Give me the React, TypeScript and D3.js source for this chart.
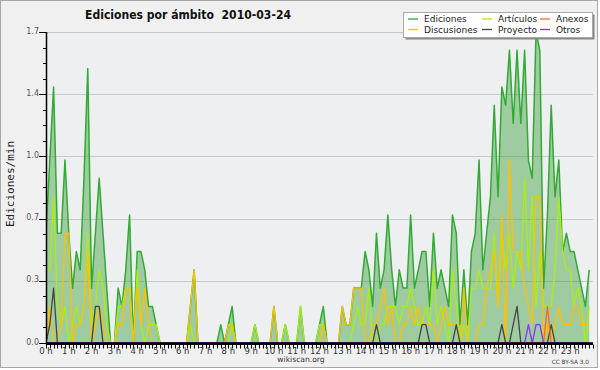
import React from "react";
import * as d3 from "d3";

// ---- DATA (values per 10-minute bucket, edits/min) ----
const hourLabels = [
  "0 h","1 h","2 h","3 h","4 h","5 h","6 h","7 h","8 h","9 h","10 h","11 h",
  "12 h","13 h","14 h","15 h","16 h","17 h","18 h","19 h","20 h","21 h","22 h","23 h",
];
const yTickValues = [0, 0.34, 0.68, 1.02, 1.36, 1.7];
const yTickLabels = ["0.0", "0.3", "0.7", "1.0", "1.4", "1.7"];

const ediciones = [
  0.6, 1.0, 1.4, 0.6, 0.6, 1.0,
  0.6, 0.3, 0.5, 0.4, 0.9, 1.5,
  0.3, 0.6, 0.9, 0.6, 0.3, 0,
  0, 0.3, 0.2, 0.4, 0.7, 0,
  0.5, 0.5, 0.4, 0.2, 0.2, 0.1,
  0, 0, 0, 0, 0, 0,
  0, 0, 0.2, 0.4, 0, 0,
  0, 0, 0, 0, 0.1, 0,
  0.1, 0.2, 0, 0, 0, 0,
  0, 0.1, 0, 0, 0, 0,
  0.2, 0, 0, 0.1, 0, 0,
  0, 0.2, 0, 0, 0, 0,
  0.1, 0.2, 0, 0, 0, 0,
  0.2, 0.1, 0.1, 0.3, 0.3, 0.3,
  0.5, 0.4, 0.2, 0.6, 0.3, 0.4,
  0.7, 0.4, 0.2, 0.4, 0.3, 0.3,
  0.7, 0.3, 0.4, 0.5, 0.5, 0.2,
  0.6, 0.3, 0.4, 0.3, 0.2, 0.7,
  0.6, 0.1, 0.4, 0.1, 0.5, 0.6,
  1.0, 0.4, 0.6, 0.8, 1.3, 0.8,
  1.4, 1.3, 1.6, 1.2, 1.6, 1.2,
  1.6, 1.0, 0.9, 1.7, 1.6, 0.3,
  0.7, 1.3, 0.8, 1.0, 0.5, 0.6,
  0.5, 0.5, 0.4, 0.3, 0.2, 0.4,
];

const articulos = [
  0.4, 0.4, 0.8, 0.2, 0.1, 0.2,
  0, 0.1, 0.2, 0.1, 0.2, 0.6,
  0.1, 0.2, 0.4, 0.3, 0.1, 0,
  0, 0.2, 0.2, 0.3, 0.3, 0,
  0.4, 0.1, 0, 0.1, 0.1, 0.1,
  0, 0, 0, 0, 0, 0,
  0, 0, 0.1, 0, 0, 0,
  0, 0, 0, 0, 0, 0,
  0, 0.1, 0, 0, 0, 0,
  0, 0.1, 0, 0, 0, 0,
  0, 0, 0, 0.1, 0, 0,
  0, 0.2, 0, 0, 0, 0,
  0.1, 0.1, 0, 0, 0, 0,
  0, 0, 0, 0.1, 0.2, 0.1,
  0.1, 0.3, 0, 0, 0.1, 0.1,
  0.2, 0.2, 0.2, 0.1, 0.2, 0.2,
  0.3, 0.2, 0.1, 0.1, 0.2, 0.1,
  0.4, 0.1, 0.2, 0.1, 0, 0.4,
  0.2, 0, 0.1, 0, 0.3, 0.3,
  0.4, 0.3, 0.3, 0.3, 0.6, 0.2,
  0.6, 0.4, 0.6, 0.3, 0.5, 0.4,
  0.9, 0.4, 0.8, 0.2, 0.5, 0.2,
  0.2, 0.2, 0.4, 0.8, 0.5, 0.4,
  0.4, 0.2, 0.3, 0.2, 0, 0.2,
];

const discusiones = [
  0, 0.2, 0, 0, 0.1, 0.6,
  0.6, 0, 0.1, 0.1, 0.2, 0.5,
  0, 0.1, 0.2, 0.1, 0, 0,
  0, 0.1, 0.1, 0.3, 0.3, 0,
  0.3, 0.1, 0.3, 0.1, 0, 0,
  0, 0, 0, 0, 0, 0,
  0, 0, 0.2, 0.4, 0, 0,
  0, 0, 0, 0, 0, 0,
  0.1, 0.1, 0, 0, 0, 0,
  0, 0, 0, 0, 0, 0,
  0.2, 0, 0, 0, 0, 0,
  0, 0, 0, 0, 0, 0,
  0, 0.1, 0, 0, 0, 0,
  0.2, 0.1, 0.1, 0.3, 0.3, 0.3,
  0, 0, 0.1, 0.1, 0.2, 0.3,
  0.1, 0.2, 0, 0, 0.1, 0.1,
  0.2, 0.1, 0.2, 0.1, 0.1, 0.1,
  0.1, 0, 0.1, 0.2, 0.1, 0.1,
  0.1, 0, 0.3, 0, 0, 0,
  0.1, 0.1, 0.3, 0.4, 0.5, 0.2,
  0.7, 0, 1.0, 0.5, 0.5, 0.5,
  0.3, 0.2, 0.1, 0.8, 0.8, 0,
  0.1, 0, 0.1, 0.2, 0.1, 0.1,
  0.1, 0.2, 0.2, 0.1, 0.1, 0.1,
];

const proyecto = [
  0, 0.1, 0.3, 0, 0, 0,
  0, 0, 0, 0, 0, 0,
  0, 0.2, 0.2, 0, 0, 0,
  0, 0, 0, 0, 0, 0,
  0, 0, 0, 0, 0, 0,
  0, 0, 0, 0, 0, 0,
  0, 0, 0, 0, 0, 0,
  0, 0, 0, 0, 0, 0,
  0, 0, 0, 0, 0, 0,
  0, 0, 0, 0, 0, 0,
  0, 0, 0, 0, 0, 0,
  0, 0, 0, 0, 0, 0,
  0, 0, 0, 0, 0, 0,
  0, 0, 0, 0, 0, 0,
  0, 0, 0, 0.1, 0, 0,
  0, 0, 0, 0, 0, 0,
  0, 0, 0, 0.1, 0.1, 0,
  0, 0, 0, 0, 0, 0,
  0.1, 0, 0, 0, 0, 0,
  0, 0, 0, 0, 0, 0,
  0.1, 0, 0, 0.1, 0.2, 0,
  0, 0, 0, 0, 0, 0,
  0, 0.1, 0, 0, 0, 0,
  0, 0, 0, 0, 0, 0,
];

const anexos = [
  0, 0, 0, 0, 0, 0, 0, 0, 0, 0, 0, 0,
  0, 0, 0, 0, 0, 0, 0, 0, 0, 0, 0, 0,
  0, 0, 0, 0, 0, 0, 0, 0, 0, 0, 0, 0,
  0, 0, 0, 0, 0, 0, 0, 0, 0, 0, 0, 0,
  0, 0, 0, 0, 0, 0, 0, 0, 0, 0, 0, 0,
  0, 0, 0, 0, 0, 0, 0, 0, 0, 0, 0, 0,
  0, 0, 0, 0, 0, 0, 0, 0, 0, 0, 0, 0,
  0, 0, 0, 0, 0, 0, 0, 0, 0, 0, 0, 0,
  0, 0, 0, 0, 0, 0, 0, 0, 0, 0, 0, 0,
  0, 0, 0, 0, 0, 0, 0, 0, 0, 0, 0, 0,
  0, 0, 0, 0, 0, 0, 0, 0, 0, 0, 0, 0,
  0.2, 0, 0, 0, 0, 0, 0, 0, 0, 0, 0, 0,
];

const otros = [
  0, 0, 0, 0, 0, 0, 0, 0, 0, 0, 0, 0,
  0, 0, 0, 0, 0, 0, 0, 0, 0, 0, 0, 0,
  0, 0, 0, 0, 0, 0, 0, 0, 0, 0, 0, 0,
  0, 0, 0, 0, 0, 0, 0, 0, 0, 0, 0, 0,
  0, 0, 0, 0, 0, 0, 0, 0, 0, 0, 0, 0,
  0, 0, 0, 0, 0, 0, 0, 0, 0, 0, 0, 0,
  0, 0, 0, 0, 0, 0, 0, 0, 0, 0, 0, 0,
  0, 0, 0, 0, 0, 0, 0, 0, 0, 0, 0, 0,
  0, 0, 0, 0, 0, 0, 0, 0, 0, 0, 0, 0,
  0, 0, 0, 0, 0, 0, 0, 0, 0, 0, 0, 0,
  0, 0, 0, 0, 0, 0, 0, 0.1, 0, 0.1, 0.1, 0,
  0, 0, 0, 0, 0, 0, 0, 0, 0, 0, 0, 0,
];

// legend order: row 1 then row 2
const seriesNames = ["Ediciones", "Artículos", "Anexos", "Discusiones", "Proyecto", "Otros"];
const seriesColors: Record<string, string> = {
  Ediciones: "#33aa33",
  Artículos: "#aaee11",
  Anexos: "#ff6a1a",
  Discusiones: "#ffc000",
  Proyecto: "#444444",
  Otros: "#8833ff",
};

// ---- LAYOUT ----
const W = 600;
const H = 370;
const L = 46;
const R = 593;
const T = 32;
const B = 343;

export default function App() {
  const x = d3.scaleLinear().domain([0, 1440]).range([L, R]);
  const y = d3.scaleLinear().domain([0, 1.7]).range([B, T]);

  const line = d3
    .line<number>()
    .x((_, i) => x(i * 10))
    .y((d) => y(d));
  const area = d3
    .area<number>()
    .x((_, i) => x(i * 10))
    .y0(y(0))
    .y1((d) => y(d));

  const minorX = d3.range(0, 1441, 10);
  const minorY = d3.range(0, 1.7001, 0.085);

  const overlay: [number[], string][] = [
    [articulos, seriesColors["Artículos"]],
    [discusiones, seriesColors["Discusiones"]],
    [proyecto, seriesColors["Proyecto"]],
    [anexos, seriesColors["Anexos"]],
    [otros, seriesColors["Otros"]],
  ];

  const legendCols = [408, 482, 540];
  const legendRows = [19, 29.5];

  return (
    <div style={{ position: "absolute", left: 0, top: 0 }}>
      <svg width={W} height={H} style={{ display: "block" }} fontFamily="'DejaVu Sans', sans-serif">
        <defs>
          <clipPath id="plotclip">
            <rect x={L} y={T} width={R - L} height={B - T} />
          </clipPath>
        </defs>
        <rect x={0} y={0} width={W} height={H} fill="#ffffff" />
        <rect x={0.5} y={0.5} width={597} height={367} fill="#f0f0f0" stroke="#a8a8a8" />
        <rect x={L} y={T} width={R - L} height={B - T} fill="#eeeff1" />

        {yTickValues.slice(1).map((v) => (
          <line key={"g" + v} x1={L} x2={R} y1={Math.round(y(v)) + 0.5} y2={Math.round(y(v)) + 0.5} stroke="#c8c8c8" strokeWidth={1} />
        ))}

        <g clipPath="url(#plotclip)">
          <path d={area(ediciones) || ""} fill="#339933" fillOpacity={0.42} />
          <path d={line(ediciones) || ""} fill="none" stroke={seriesColors.Ediciones} strokeWidth={1.5} strokeLinejoin="round" />
          {overlay.map(([data, color], k) => (
            <path key={k} d={line(data) || ""} fill="none" stroke={color} strokeWidth={1.3} strokeLinejoin="round" />
          ))}
        </g>

        {/* X axis */}
        <line x1={L} x2={R} y1={B + 0.6} y2={B + 0.6} stroke="#000" strokeWidth={2.6} />
        {minorX.map((m) => (
          <line key={"mx" + m} x1={Math.round(x(m)) + 0.5} x2={Math.round(x(m)) + 0.5} y1={B + 1.5} y2={B + 5.5} stroke="#000" strokeWidth={1} />
        ))}
        {hourLabels.map((lab, h) => (
          <text key={"xl" + h} x={x(h * 60)} y={353.5} textAnchor="middle" fontSize={8.5} fill="#333">
            {lab}
          </text>
        ))}

        {/* Y axis */}
        <line x1={L + 0.5} x2={L + 0.5} y1={T} y2={B + 1.5} stroke="#000" strokeWidth={1.5} />
        {minorY.map((v, i) => (
          <line key={"my" + i} x1={L - 3} x2={L} y1={Math.round(y(v)) + 0.5} y2={Math.round(y(v)) + 0.5} stroke="#000" strokeWidth={1} />
        ))}
        {yTickValues.map((v, i) => (
          <g key={"yt" + i}>
            <line x1={L - 7} x2={L} y1={Math.round(y(v)) + 0.5} y2={Math.round(y(v)) + 0.5} stroke="#000" strokeWidth={1} />
            <text x={L - 7} y={y(v) + 1.5} textAnchor="end" fontSize={8} fill="#555">
              {yTickLabels[i]}
            </text>
          </g>
        ))}

        {/* Titles */}
        <text x={85} y={18.5} fontSize={12.5} fontWeight="bold" fill="#111" textLength={206} lengthAdjust="spacingAndGlyphs" xmlSpace="preserve">
          {"Ediciones por ámbito  2010-03-24"}
        </text>
        <text
          transform="translate(13.5,184) rotate(-90)"
          textAnchor="middle"
          fontSize={11}
          fontFamily="'DejaVu Sans Mono', monospace"
          fill="#222"
        >
          Ediciones/min
        </text>
        <text x={301} y={362} textAnchor="middle" fontSize={7.6} fill="#333">
          wikiscan.org
        </text>
        <text x={589} y={364} textAnchor="end" fontSize={5.8} fill="#444">
          CC BY-SA 3.0
        </text>

        {/* Legend */}
        <rect x={405.5} y={14.5} width={189} height={25} fill="#888" />
        <rect x={403.5} y={12.5} width={189} height={25} fill="#fff" stroke="#aaa" />
        {seriesNames.map((name, i) => {
          const col = i % 3;
          const row = Math.floor(i / 3);
          const lx = legendCols[col];
          const ly = legendRows[row];
          return (
            <g key={name}>
              <line x1={lx} x2={lx + 10} y1={ly} y2={ly} stroke={seriesColors[name]} strokeWidth={1.3} />
              <text x={lx + 16} y={ly + 3.3} fontSize={9} fill="#222">
                {name}
              </text>
            </g>
          );
        })}
      </svg>
    </div>
  );
}
